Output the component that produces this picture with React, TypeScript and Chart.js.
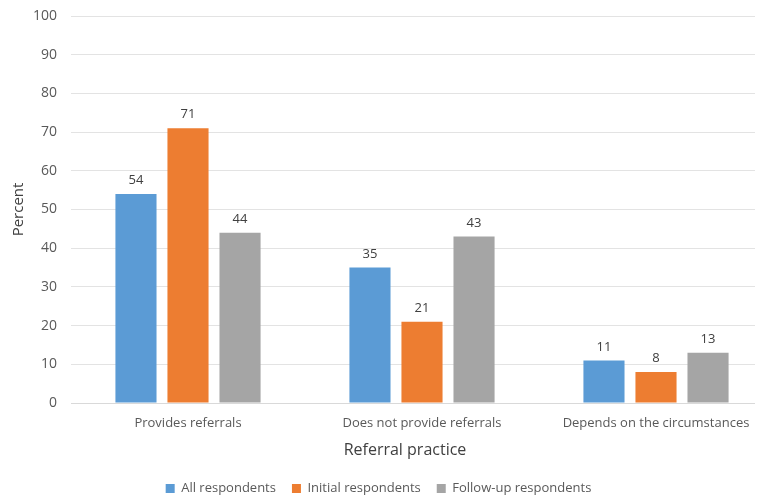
import { useEffect, useRef } from "react";
import { Chart, registerables } from "chart.js";
import type { Plugin } from "chart.js";

Chart.register(...registerables);

const categories = [
  "Provides referrals",
  "Does not provide referrals",
  "Depends on the circumstances",
];
const allRespondents = [54, 35, 11];
const initialRespondents = [71, 21, 8];
const followUpRespondents = [44, 43, 13];
const yTicks = [0, 10, 20, 30, 40, 50, 60, 70, 80, 90, 100];
const xTitle = "Referral practice";

const FONT = "'Open Sans', 'Noto Sans', sans-serif";

/** Draws the value above each bar. */
const valueLabels: Plugin<"bar"> = {
  id: "valueLabels",
  afterDatasetsDraw(chart) {
    const ctx = chart.ctx;
    ctx.save();
    ctx.font = `13px ${FONT}`;
    ctx.fillStyle = "#404040";
    ctx.textAlign = "center";
    ctx.textBaseline = "bottom";
    chart.data.datasets.forEach((dataset, di) => {
      chart.getDatasetMeta(di).data.forEach((bar, i) => {
        ctx.fillText(String(dataset.data[i]), bar.x, bar.y - 7);
      });
    });
    ctx.restore();
  },
};

// The plot area runs past the visible right edge (as in the source image),
// so the legend and the x title are shifted back toward the visible centre.
const visibleCentering: Plugin<"bar"> = {
  id: "visibleCentering",
  afterLayout(chart) {
    const legend = chart.legend;
    if (legend) {
      legend.left -= 8;
      legend.right -= 8;
    }
  },
  afterDraw(chart) {
    const ctx = chart.ctx;
    const { left, right } = chart.chartArea;
    ctx.save();
    ctx.font = `16px ${FONT}`;
    ctx.fillStyle = "#404040";
    ctx.textAlign = "center";
    ctx.textBaseline = "middle";
    ctx.fillText(xTitle, (left + right) / 2 - 17, chart.scales.x.bottom - 16);
    ctx.restore();
  },
};

export default function App(): JSX.Element {
  const canvasRef = useRef<HTMLCanvasElement | null>(null);

  useEffect(() => {
    document.body.style.margin = "0";
    const canvas = canvasRef.current;
    if (!canvas) {
      return;
    }

    const chart = new Chart(canvas, {
      type: "bar",
      data: {
        labels: categories,
        datasets: [
          { label: "All respondents", data: allRespondents, backgroundColor: "#5B9BD5" },
          { label: "Initial respondents", data: initialRespondents, backgroundColor: "#ED7D31" },
          { label: "Follow-up respondents", data: followUpRespondents, backgroundColor: "#A5A5A5" },
        ],
      },
      options: {
        animation: false,
        responsive: false,
        layout: { padding: { top: 16, right: 0, left: 0, bottom: -9 } },
        datasets: { bar: { categoryPercentage: 0.667, barPercentage: 0.79 } },
        plugins: {
          legend: {
            position: "bottom",
            labels: {
              color: "#595959",
              font: { family: FONT, size: 13 },
              boxWidth: 9,
              boxHeight: 9,
              padding: 16,
            },
          },
          tooltip: { enabled: false },
        },
        scales: {
          x: {
            grid: { display: false },
            border: { color: "#D9D9D9" },
            ticks: { color: "#595959", font: { family: FONT, size: 13 }, padding: 4 },
            afterFit: (scale) => {
              scale.height = 63;
            },
          },
          y: {
            min: 0,
            max: 100,
            afterBuildTicks: (scale) => {
              scale.ticks = yTicks.map((value) => ({ value }));
            },
            grid: { color: "#E3E3E3", drawTicks: false },
            border: { display: false },
            ticks: { color: "#595959", font: { family: FONT, size: 14 }, padding: 14 },
            title: {
              display: true,
              text: "Percent",
              color: "#404040",
              font: { family: FONT, size: 15 },
              padding: { top: 10, bottom: 8 },
            },
            afterFit: (scale) => {
              scale.width = 71;
              scale.paddingTop = 0;
              scale.paddingBottom = 0;
            },
          },
        },
      },
      plugins: [valueLabels, visibleCentering],
    });

    return () => {
      chart.destroy();
    };
  }, []);

  return (
    <div style={{ width: 755, height: 496, overflow: "hidden", background: "#fff" }}>
      <canvas ref={canvasRef} width={773} height={496} style={{ display: "block" }} />
    </div>
  );
}
